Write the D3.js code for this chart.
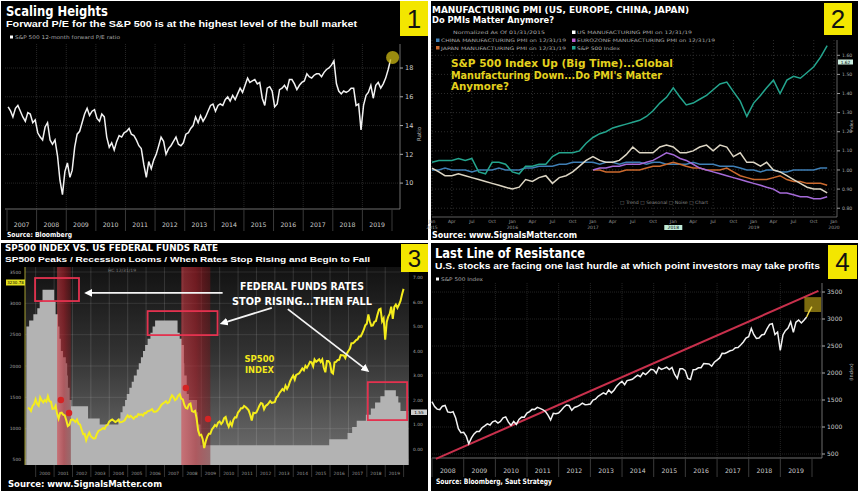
<!DOCTYPE html>
<html><head><meta charset="utf-8">
<script src="https://cdn.jsdelivr.net/npm/d3@7"></script>
<style>body{margin:0;background:#fff;} svg{display:block;}</style>
</head><body><svg id="c" width="859" height="492"></svg>
<script>
// ---------------- DATA ----------------
// Panel 1: S&P 500 12-month forward P/E, monthly Jan 2007 .. Dec 2019
const peStart = [2007, 0];
const peValues = [
 15.3,15.0,14.6,15.2,15.4,15.0,14.6,14.3,14.9,14.8,14.2,14.4,
 13.5,13.2,13.0,13.9,14.2,13.0,12.7,13.0,11.9,10.2,9.2,10.8,
 11.4,10.4,10.9,12.5,13.4,13.6,14.2,14.8,15.2,14.7,15.0,15.1,
 14.5,14.3,14.8,14.6,13.2,12.5,12.8,12.3,12.9,13.3,13.2,13.5,
 13.6,13.8,13.4,13.3,13.0,12.6,12.4,11.3,10.4,11.5,11.0,11.6,
 12.0,12.6,13.2,12.9,12.0,12.4,12.6,12.9,13.2,12.7,12.6,12.8,
 13.4,13.5,13.8,14.0,14.6,14.2,14.7,14.3,14.6,15.0,15.4,15.5,
 15.0,15.4,15.5,15.4,15.8,16.0,15.7,16.1,15.8,16.2,16.6,16.3,
 16.8,17.3,17.0,17.1,17.2,16.9,17.0,15.9,15.4,16.6,16.7,16.4,
 15.3,15.5,16.5,16.6,16.8,16.5,17.2,17.2,16.9,16.5,16.8,17.0,
 17.1,17.6,17.4,17.3,17.5,17.6,17.6,17.4,17.7,17.9,18.0,18.2,
 18.5,16.9,16.4,16.2,16.4,16.3,16.4,16.6,16.6,15.4,15.5,13.7,
 15.4,16.1,16.3,16.8,15.9,16.8,17.0,16.6,16.9,17.3,17.9,18.6];
const peTicks = [10,12,14,16,18];
const peYears = d3.range(2007, 2020);

// Panel 2: normalized indices, monthly Jan 2015 .. Dec 2019
const pmiStart = [2015, 0];
const spxNorm = [1.04,1.05,1.05,1.05,1.06,1.05,1.06,0.99,0.98,1.04,1.04,1.03,0.99,0.98,1.02,1.02,1.03,1.03,1.07,1.09,1.09,1.09,1.10,1.14,1.17,1.19,1.20,1.22,1.23,1.24,1.25,1.26,1.28,1.31,1.35,1.38,1.43,1.38,1.34,1.35,1.37,1.39,1.42,1.45,1.46,1.41,1.36,1.28,1.35,1.39,1.43,1.47,1.40,1.47,1.49,1.48,1.51,1.54,1.59,1.65];
const usPmi = [1.01,0.99,0.97,0.97,0.98,0.97,0.96,0.95,0.94,0.93,0.92,0.91,0.90,0.91,0.95,0.94,0.96,0.97,0.93,0.96,0.97,0.99,1.02,1.05,1.07,1.05,1.04,1.04,1.05,1.08,1.12,1.09,1.09,1.09,1.12,1.13,1.12,1.09,1.09,1.10,1.12,1.13,1.10,1.13,1.12,1.07,1.09,1.04,1.04,1.02,1.04,1.00,0.99,0.97,0.95,0.93,0.91,0.90,0.90,0.88];
const chinaPmi = [1.00,1.00,1.01,1.00,1.00,1.00,0.99,1.00,1.00,1.00,1.01,1.00,1.00,1.00,1.01,1.01,1.02,1.02,1.02,1.03,1.03,1.04,1.04,1.04,1.04,1.03,1.04,1.04,1.03,1.04,1.04,1.04,1.03,1.04,1.04,1.03,1.03,1.03,1.03,1.04,1.03,1.03,1.03,1.02,1.02,1.02,1.01,1.00,1.00,0.99,1.00,1.00,0.99,0.99,1.00,1.00,1.00,1.00,1.01,1.01];
const japanPmi = [null,null,null,null,null,null,null,null,null,null,null,null,null,null,null,null,null,null,null,null,null,null,null,null,1.00,1.00,0.99,0.99,0.99,1.00,1.00,1.00,1.01,1.02,1.02,1.03,1.04,1.03,1.02,1.01,1.01,1.00,1.00,1.00,1.01,0.99,0.97,0.96,0.95,0.95,0.95,0.96,0.97,0.95,0.94,0.94,0.93,0.93,0.93,0.92];
const euroPmi = [null,null,null,null,null,null,null,null,null,null,null,null,null,null,null,null,null,null,null,null,null,null,null,null,1.00,1.01,1.01,1.02,1.02,1.03,1.03,1.03,1.04,1.05,1.07,1.09,1.08,1.06,1.05,1.03,1.01,1.00,0.99,0.98,0.97,0.96,0.95,0.94,0.93,0.92,0.91,0.90,0.88,0.88,0.87,0.86,0.86,0.85,0.85,0.86];
const pmiTicks = [0.8,0.9,1.0,1.1,1.2,1.3,1.4,1.5,1.6];
const monthNames = ["Jan","Apr","Jul","Oct"];

// Panels 3 & 4: S&P 500 month-end level, Jul 1999 .. Dec 2019
const spxStart = [1999, 6];
const spxValues = [
 1329,1320,1283,1363,1389,1469,
 1394,1366,1499,1452,1421,1455,1431,1518,1437,1429,1315,1320,
 1366,1240,1160,1249,1256,1224,1211,1134,1041,1060,1139,1148,
 1130,1107,1147,1077,1067,990,912,916,815,886,936,880,
 856,841,848,917,964,975,990,1008,996,1051,1058,1112,
 1131,1145,1126,1107,1121,1141,1102,1104,1115,1130,1174,1212,
 1181,1204,1181,1157,1192,1191,1234,1220,1229,1207,1249,1248,
 1280,1281,1295,1311,1270,1270,1277,1304,1336,1378,1401,1418,
 1438,1407,1421,1482,1531,1503,1455,1474,1527,1549,1481,1468,
 1379,1331,1323,1386,1400,1280,1267,1283,1166,969,896,903,
 826,690,798,873,919,919,987,1021,1057,1036,1096,1115,
 1074,1104,1169,1187,1089,1031,1102,1049,1141,1183,1181,1258,
 1286,1327,1326,1364,1345,1321,1292,1219,1131,1253,1247,1258,
 1312,1366,1408,1398,1310,1362,1379,1407,1441,1412,1416,1426,
 1498,1515,1569,1598,1631,1606,1686,1633,1682,1757,1806,1848,
 1783,1859,1872,1884,1924,1960,1931,2003,1972,2018,2068,2059,
 1995,2105,2068,2086,2107,2063,2104,1972,1900,2079,2080,2044,
 1900,1880,2060,2065,2097,2099,2174,2171,2168,2126,2199,2239,
 2279,2364,2363,2384,2412,2423,2470,2472,2519,2575,2648,2674,
 2824,2714,2641,2648,2705,2718,2816,2902,2914,2712,2760,2420,
 2704,2784,2834,2946,2752,2942,2980,2926,2977,3038,3141,3231];

// Panel 3: US Fed funds target rate (change dates)
const fedDates = ["1999-07-01","1999-08-24","1999-11-16","2000-02-02","2000-03-21","2000-05-16","2001-01-03","2001-01-31","2001-03-20","2001-04-18","2001-05-15","2001-06-27","2001-08-21","2001-09-17","2001-10-02","2001-11-06","2001-12-11","2002-11-06","2003-06-25","2004-06-30","2004-08-10","2004-09-21","2004-11-10","2004-12-14","2005-02-02","2005-03-22","2005-05-03","2005-06-30","2005-08-09","2005-09-20","2005-11-01","2005-12-13","2006-01-31","2006-03-28","2006-05-10","2006-06-29","2007-09-18","2007-10-31","2007-12-11","2008-01-22","2008-01-30","2008-03-18","2008-04-30","2008-10-08","2008-10-29","2008-12-16","2015-12-16","2016-12-14","2017-03-15","2017-06-14","2017-12-13","2018-03-21","2018-06-13","2018-09-26","2018-12-19","2019-07-31","2019-09-18","2019-10-30","2020-04-01"];
const fedRates = [5.00,5.25,5.50,5.75,6.00,6.50,6.00,5.50,5.00,4.50,4.00,3.75,3.50,3.00,2.50,2.00,1.75,1.25,1.00,1.25,1.50,1.75,2.00,2.25,2.50,2.75,3.00,3.25,3.50,3.75,4.00,4.25,4.50,4.75,5.00,5.25,4.75,4.50,4.25,3.50,3.00,2.25,2.00,1.50,1.00,0.15,0.40,0.65,0.90,1.15,1.40,1.65,1.90,2.15,2.40,2.15,1.90,1.55,1.55];
const recessions = [["2001-03-01","2001-11-30"],["2007-12-01","2009-06-30"]];
const spxTicks3 = [500,1000,1500,2000,2500,3000,3500];
const fedTicks = [0,1,2,3,4,5,6,7];
const years3 = d3.range(2000, 2020);
// annotations (date, value on fed-funds scale)
const peakBoxes = [["1999-12-20",6.98,"2002-05-10",6.04],["2006-02-01",5.63,"2009-11-20",4.65],["2018-01-20",2.73,"2020-03-10",1.18]];
const arrows = [["2010-03-01",6.37,"2002-10-20",6.37],["2012-11-01",5.76,"2010-03-01",5.14],["2013-09-15",5.71,"2018-01-01",3.22]];
const dotDates = ["2001-05-15","2001-10-25","2008-03-01","2009-05-15"];
const dotValues = [1457,1250,1650,1155];

// Panel 4
const spxTicks4 = [500,1000,1500,2000,2500,3000,3500];
const years4 = d3.range(2008, 2020);
const trendDates = ["2008-02-15","2020-03-15"];
const trendValues = [410,3520];
const zoneBox = ["2019-10-05",3405,"2020-04-15",3130];

// ---------------- DRAW ----------------
const svg = d3.select("#c");
const FONT = "'DejaVu Sans', Verdana, sans-serif";
const NARROW = "'Liberation Sans Narrow', 'Liberation Sans', Arial, sans-serif";
const P = d3.timeParse("%Y-%m-%d");
function T(g, x, y, s, o = {}) {
  const t = g.append("text").attr("x", x).attr("y", y).text(s)
    .attr("font-family", o.family || FONT).attr("font-size", o.size || 8)
    .attr("font-weight", o.bold ? "bold" : "normal").attr("fill", o.fill || "#fff");
  if (o.len) t.attr("textLength", o.len).attr("lengthAdjust", "spacingAndGlyphs");
  if (o.anchor) t.attr("text-anchor", o.anchor);
  if (o.rotate) t.attr("transform", `rotate(${o.rotate},${x},${y})`);
  return t;
}
const defs = svg.append("defs");
svg.append("rect").attr("width", 859).attr("height", 492).attr("fill", "#fff");
[[1,1,427,239],[431,1,427,239],[1,243,427,248],[431,243,427,248]].forEach(p =>
  svg.append("rect").attr("x", p[0]).attr("y", p[1]).attr("width", p[2]).attr("height", p[3]).attr("fill", "#000"));

function numBox(x, y, w, h, n, fs) {
  svg.append("rect").attr("x", x).attr("y", y).attr("width", w).attr("height", h).attr("fill", "#f3e600");
  T(svg, x + w / 2, y + h / 2 + fs * 0.36, n, {size: fs, fill: "#111", anchor: "middle", family: "'Liberation Sans', Arial"});
}

// ===== Panel 1 =====
{
  const g = svg.append("g");
  const x = d3.scaleTime().domain([new Date(2007,0,1), new Date(2020,0,1)]).range([7, 392]);
  const y = d3.scaleLinear().domain([8.2, 19.67]).range([209, 44]);
  peYears.slice(1).forEach(Y => g.append("line").attr("x1", x(new Date(Y,0,1))).attr("x2", x(new Date(Y,0,1))).attr("y1", 44).attr("y2", 209).attr("stroke", "#262626").attr("stroke-dasharray", "1,1"));
  peTicks.forEach(v => g.append("line").attr("x1", 5).attr("x2", 400).attr("y1", y(v)).attr("y2", y(v)).attr("stroke", "#262626").attr("stroke-dasharray", "1,1"));
  g.append("line").attr("x1", 400).attr("x2", 400).attr("y1", 44).attr("y2", 209).attr("stroke", "#888").attr("stroke-width", 0.8);
  g.append("line").attr("x1", 5).attr("x2", 400).attr("y1", 209).attr("y2", 209).attr("stroke", "#888").attr("stroke-width", 0.8);
  peTicks.forEach(v => {
    g.append("line").attr("x1", 400).attr("x2", 403).attr("y1", y(v)).attr("y2", y(v)).attr("stroke", "#aaa");
    T(g, 405, y(v) + 2.3, v, {size: 6.5, fill: "#ccc"});
  });
  T(g, 421, 134, "Ratio", {size: 5.5, fill: "#bbb", rotate: -90, anchor: "middle"});
  peYears.concat([2020]).forEach(Y => g.append("line").attr("x1", x(new Date(Y,0,1))).attr("x2", x(new Date(Y,0,1))).attr("y1", 209).attr("y2", 231).attr("stroke", "#3a3a3a"));
  peYears.forEach(Y => T(g, x(new Date(Y,6,1)), 227, Y, {size: 6.2, fill: "#ccc", anchor: "middle"}));
  const line = d3.line().x((d, i) => x(new Date(peStart[0], peStart[1] + i, 15))).y(d => y(d));
  g.append("path").attr("d", line(peValues)).attr("fill", "none").attr("stroke", "#f2f2f2").attr("stroke-width", 1.5);
  const li = peValues.length - 1;
  g.append("circle").attr("cx", x(new Date(peStart[0], peStart[1] + li, 15)) + 2).attr("cy", y(peValues[li]) - 2).attr("r", 6.5).attr("fill", "rgba(205,185,20,0.75)");
  T(g, 6, 16, "Scaling Heights", {size: 14, bold: true, len: 102});
  T(g, 6, 27, "Forward P/E for the S&P 500 is at the highest level of the bull market", {size: 9.5, bold: true, len: 351, family: NARROW});
  g.append("rect").attr("x", 10).attr("y", 35.5).attr("width", 3).attr("height", 3).attr("fill", "#fff");
  T(g, 15, 39.3, "S&P 500 12-month forward P/E ratio", {size: 5, fill: "#aaa", len: 105});
  T(g, 7, 237, "Source: Bloomberg", {size: 7, bold: true, len: 65});
  numBox(400, 1, 28, 35, "1", 26);
}

// ===== Panel 2 =====
{
  const g = svg.append("g");
  const x = d3.scaleTime().domain([new Date(2015,0,1), new Date(2020,0,1)]).range([432, 834]);
  const y = d3.scaleLinear().domain([0.754, 1.68]).range([217, 40]);
  const qs = d3.timeMonth.every(3).range(new Date(2015,0,1), new Date(2020,0,2));
  qs.forEach(d => g.append("line").attr("x1", x(d)).attr("x2", x(d)).attr("y1", 40).attr("y2", 217).attr("stroke", "#2c2c2c").attr("stroke-dasharray", "1,2"));
  pmiTicks.forEach(v => g.append("line").attr("x1", 432).attr("x2", 837).attr("y1", y(v)).attr("y2", y(v)).attr("stroke", "#2c2c2c").attr("stroke-dasharray", "1,2"));
  g.append("line").attr("x1", 837).attr("x2", 837).attr("y1", 40).attr("y2", 217).attr("stroke", "#888").attr("stroke-width", 0.7);
  g.append("line").attr("x1", 432).attr("x2", 837).attr("y1", 217).attr("y2", 217).attr("stroke", "#888").attr("stroke-width", 0.7);
  pmiTicks.forEach(v => {
    g.append("line").attr("x1", 837).attr("x2", 840).attr("y1", y(v)).attr("y2", y(v)).attr("stroke", "#999");
    T(g, 842, y(v) + 1.6, d3.format(".2f")(v), {size: 4.6, fill: "#aaa"});
  });
  g.append("rect").attr("x", 838).attr("y", 59.5).attr("width", 15).attr("height", 5).attr("fill", "#cdeee0");
  T(g, 845.5, 63.5, "1.62", {size: 4.3, fill: "#000", anchor: "middle"});
  T(g, 853, 126, "Index", {size: 4.5, fill: "#aaa", rotate: -90, anchor: "middle"});
  qs.forEach(d => {
    T(g, x(d), 223, monthNames[d.getMonth() / 3], {size: 4.5, fill: "#999", anchor: "middle"});
    if (d.getMonth() === 0 && d.getFullYear() !== 2018) T(g, x(d), 229, d.getFullYear(), {size: 4.5, fill: "#999", anchor: "middle"});
  });
  g.append("rect").attr("x", x(new Date(2018,0,1)) - 9).attr("y", 225).attr("width", 18).attr("height", 5).attr("fill", "#bfead8");
  T(g, x(new Date(2018,0,1)), 229, "2018", {size: 4.5, fill: "#000", anchor: "middle"});
  const mk = arr => d3.line().defined(d => d != null).x((d, i) => x(new Date(pmiStart[0], pmiStart[1] + i, 1))).y(d => y(d))(arr);
  [[chinaPmi, "#3f7fb5"], [japanPmi, "#cc6a2e"], [euroPmi, "#a56ad8"], [usPmi, "#ddd6c4"], [spxNorm, "#24a58e"]].forEach(s =>
    g.append("path").attr("d", mk(s[0])).attr("fill", "none").attr("stroke", s[1]).attr("stroke-width", 1.5));
  T(g, 620, 204, "\u25A1 Trend  \u25A1 Seasonal  \u25A1 Noise  \u25A1 Chart", {size: 4.5, fill: "#888", len: 88});
  T(g, 432, 13, "MANUFACTURING PMI (US, EUROPE, CHINA, JAPAN)", {size: 9, bold: true, len: 257});
  T(g, 432, 22.5, "Do PMIs Matter Anymore?", {size: 9, bold: true, len: 122});
  const leg = [[null, 453, 34, "Normalized As Of 01/31/2015", 92], ["#fff", 572, 34, "US MANUFACTURING PMI on 12/31/19", 115],
    ["#3f7fb5", 436, 42, "CHINA MANUFACTURING PMI on 12/31/19", 125], ["#c060d0", 572, 42, "EUROZONE MANUFACTURING PMI on 12/31/19", 138],
    ["#cc6a2e", 436, 49.5, "JAPAN MANUFACTURING PMI on 12/31/19", 125], ["#24a58e", 572, 49.5, "S&P 500 Index", 43]];
  leg.forEach(l => {
    if (l[0]) g.append("rect").attr("x", l[1]).attr("y", l[2] - 3.5).attr("width", 3.5).attr("height", 3.5).attr("fill", l[0]);
    T(g, l[1] + (l[0] ? 5 : 0), l[2], l[3], {size: 4.6, fill: "#aaa", len: l[4]});
  });
  const yl = {size: 11, bold: true, fill: "#e4d11e"};
  T(g, 451, 67, "S&P 500 Index Up (Big Time)...Global", {...yl, len: 222});
  T(g, 451, 78.5, "Manufacturing Down...Do PMI's Matter", {...yl, len: 211});
  T(g, 451, 90, "Anymore?", {...yl, len: 58});
  T(g, 432, 238, "Source: www.SignalsMatter.com", {size: 9.5, bold: true, len: 145});
  numBox(824, 3, 28, 32, "2", 26);
}

// ===== Panel 3 =====
{
  const g = svg.append("g");
  const x = d3.scaleTime().domain([new Date(1999,6,1), new Date(2020,3,1)]).range([26.4, 408.2]);
  const yL = d3.scaleLinear().domain([420, 3580]).range([465, 267]);
  const yR = d3.scaleLinear().domain([-0.653, 7.43]).range([465, 267]);
  const bg = defs.append("linearGradient").attr("id", "bg3").attr("x1", 0).attr("y1", 0).attr("x2", 0).attr("y2", 1);
  [[0, "#121212"], [0.45, "#333"], [1, "#727272"]].forEach(s => bg.append("stop").attr("offset", s[0]).attr("stop-color", s[1]));
  const rg = defs.append("linearGradient").attr("id", "rec").attr("x1", 0).attr("y1", 0).attr("x2", 1).attr("y2", 0);
  [[0, "rgba(215,60,70,0.55)"], [0.5, "rgba(170,30,40,0.6)"], [1, "rgba(120,20,25,0.45)"]].forEach(s => rg.append("stop").attr("offset", s[0]).attr("stop-color", s[1]));
  g.append("rect").attr("x", 25).attr("y", 267).attr("width", 384).attr("height", 198).attr("fill", "url(#bg3)");
  years3.forEach(Y => g.append("line").attr("x1", x(new Date(Y,0,1))).attr("x2", x(new Date(Y,0,1))).attr("y1", 267).attr("y2", 465).attr("stroke", "rgba(255,255,255,0.13)"));
  spxTicks3.forEach(v => g.append("line").attr("x1", 25).attr("x2", 409).attr("y1", yL(v)).attr("y2", yL(v)).attr("stroke", "rgba(255,255,255,0.1)"));
  const fed = fedDates.map((d, i) => [P(d), fedRates[i]]);
  g.append("path").attr("d", d3.area().curve(d3.curveStepAfter).x(d => x(d[0])).y0(465).y1(d => yR(d[1]))(fed)).attr("fill", "#b3b3b3");
  recessions.forEach(r => g.append("rect").attr("x", x(P(r[0]))).attr("width", x(P(r[1])) - x(P(r[0]))).attr("y", 267).attr("height", 198).attr("fill", "url(#rec)"));
  const sp = spxValues.map((v, i) => [new Date(spxStart[0], spxStart[1] + i + 1, 0), v]);
  g.append("path").attr("d", d3.line().x(d => x(d[0])).y(d => yL(d[1]))(sp)).attr("fill", "none").attr("stroke", "#f4ec1c").attr("stroke-width", 2);
  peakBoxes.forEach(b => g.append("rect").attr("x", x(P(b[0]))).attr("y", yR(b[1])).attr("width", x(P(b[2])) - x(P(b[0]))).attr("height", yR(b[3]) - yR(b[1])).attr("fill", "none").attr("stroke", "#e3324f").attr("stroke-width", 1.8));
  dotDates.forEach((d, i) => g.append("circle").attr("cx", x(P(d))).attr("cy", yL(dotValues[i])).attr("r", 3.2).attr("fill", "#d42424"));
  const mk = defs.append("marker").attr("id", "ah").attr("markerUnits", "userSpaceOnUse").attr("markerWidth", 8).attr("markerHeight", 8).attr("refX", 5).attr("refY", 4).attr("orient", "auto");
  mk.append("path").attr("d", "M0,0 L8,4 L0,8 z").attr("fill", "#fff");
  arrows.forEach(a => g.append("line").attr("x1", x(P(a[0]))).attr("y1", yR(a[1])).attr("x2", x(P(a[2]))).attr("y2", yR(a[3])).attr("stroke", "#f4f4f4").attr("stroke-width", 1.8).attr("marker-end", "url(#ah)"));
  // axes
  g.append("line").attr("x1", 25).attr("x2", 25).attr("y1", 267).attr("y2", 465).attr("stroke", "#c9c23a").attr("stroke-width", 0.8);
  spxTicks3.forEach(v => T(g, 21, yL(v) + 1.5, v, {size: 4.4, fill: "#aaa", anchor: "end"}));
  g.append("rect").attr("x", 6).attr("y", 279.5).attr("width", 19).attr("height", 6).attr("fill", "#e4e020");
  T(g, 15.5, 284, "3230.78", {size: 4, fill: "#000", anchor: "middle"});
  fedTicks.forEach(v => T(g, 413, yR(v) + 1.5, d3.format(".2f")(v), {size: 4.4, fill: "#aaa"}));
  g.append("rect").attr("x", 411).attr("y", 409.5).attr("width", 16).attr("height", 5.5).attr("fill", "#ccc");
  T(g, 419, 413.8, "1.55", {size: 4.2, fill: "#000", anchor: "middle"});
  T(g, 122, 272, "HC 12/31/19", {size: 4.5, fill: "#777", anchor: "middle"});
  years3.concat([2020]).forEach(Y => g.append("line").attr("x1", x(new Date(Y,0,1))).attr("x2", x(new Date(Y,0,1))).attr("y1", 465).attr("y2", 477).attr("stroke", "#333"));
  years3.forEach(Y => T(g, x(new Date(Y,6,1)), 474.5, Y, {size: 4.4, fill: "#999", anchor: "middle"}));
  // texts
  T(g, 302, 290, "FEDERAL FUNDS RATES", {size: 11, bold: true, anchor: "middle", len: 124});
  T(g, 302, 305, "STOP RISING...THEN FALL", {size: 11, bold: true, anchor: "middle", len: 140});
  T(g, x(new Date(2012,2,1)), yL(2064), "SP500", {size: 8.5, bold: true, fill: "#f2e81c", anchor: "middle", len: 30});
  T(g, x(new Date(2012,2,1)), yL(1895), "INDEX", {size: 8.5, bold: true, fill: "#f2e81c", anchor: "middle", len: 29});
  T(g, 5, 250.5, "SP500 INDEX VS. US FEDERAL FUNDS RATE", {size: 8, bold: true, len: 213});
  T(g, 5, 262, "SP500 Peaks / Recession Looms / When Rates Stop Rising and Begin to Fall", {size: 8, bold: true, len: 365, family: NARROW});
  T(g, 8, 487, "Source: www.SignalsMatter.com", {size: 9, bold: true, len: 154});
  numBox(401, 244, 27, 28, "3", 24);
}

// ===== Panel 4 =====
{
  const g = svg.append("g");
  const x = d3.scaleTime().domain([new Date(2008,0,1), new Date(2020,0,1)]).range([432, 812]);
  const y = d3.scaleLinear().domain([426, 3667]).range([458, 283]);
  years4.slice(1).forEach(Y => g.append("line").attr("x1", x(new Date(Y,0,1))).attr("x2", x(new Date(Y,0,1))).attr("y1", 283).attr("y2", 458).attr("stroke", "#232323").attr("stroke-dasharray", "1,1"));
  spxTicks4.forEach(v => g.append("line").attr("x1", 432).attr("x2", 822).attr("y1", y(v)).attr("y2", y(v)).attr("stroke", "#232323").attr("stroke-dasharray", "1,1"));
  g.append("line").attr("x1", 822).attr("x2", 822).attr("y1", 283).attr("y2", 458).attr("stroke", "#888").attr("stroke-width", 0.8);
  g.append("line").attr("x1", 432).attr("x2", 822).attr("y1", 458).attr("y2", 458).attr("stroke", "#888").attr("stroke-width", 0.8);
  spxTicks4.forEach(v => {
    g.append("line").attr("x1", 822).attr("x2", 825).attr("y1", y(v)).attr("y2", y(v)).attr("stroke", "#aaa");
    T(g, 827, y(v) + 2, v, {size: 6, fill: "#ccc"});
  });
  T(g, 853, 372, "(Index)", {size: 5, fill: "#bbb", rotate: -90, anchor: "middle"});
  years4.concat([2020]).forEach(Y => g.append("line").attr("x1", x(new Date(Y,0,1))).attr("x2", x(new Date(Y,0,1))).attr("y1", 458).attr("y2", 477).attr("stroke", "#3a3a3a"));
  years4.forEach(Y => T(g, x(new Date(Y,6,1)), 473, Y, {size: 6.2, fill: "#ccc", anchor: "middle"}));
  const tr = trendDates.map((d, i) => [P(d), trendValues[i]]);
  g.append("path").attr("d", d3.line().x(d => x(d[0])).y(d => y(d[1]))(tr)).attr("stroke", "#c8304c").attr("stroke-width", 2).attr("fill", "none");
  g.append("rect").attr("x", x(P(zoneBox[0]))).attr("y", y(zoneBox[1])).attr("width", x(P(zoneBox[2])) - x(P(zoneBox[0]))).attr("height", y(zoneBox[3]) - y(zoneBox[1])).attr("fill", "rgba(200,172,25,0.62)");
  const sp = spxValues.map((v, i) => [new Date(spxStart[0], spxStart[1] + i + 1, 0), v]).filter(d => d[0] >= new Date(2007,11,31));
  g.append("path").attr("d", d3.line().x(d => x(d[0])).y(d => y(d[1]))(sp.slice(0, -2))).attr("fill", "none").attr("stroke", "#f2f2f2").attr("stroke-width", 1.5);
  g.append("path").attr("d", d3.line().x(d => x(d[0])).y(d => y(d[1]))(sp.slice(-3))).attr("fill", "none").attr("stroke", "#ecd84a").attr("stroke-width", 1.5);
  T(g, 435, 257.5, "Last Line of Resistance", {size: 14, bold: true, len: 150});
  T(g, 435, 269, "U.S. stocks are facing one last hurdle at which point investors may take profits", {size: 9.5, bold: true, len: 385, family: NARROW});
  g.append("rect").attr("x", 436).attr("y", 277.5).attr("width", 3).attr("height", 3).attr("fill", "#fff");
  T(g, 441, 281, "S&P 500 Index", {size: 5, fill: "#aaa", len: 42});
  T(g, 436, 484, "Source: Bloomberg, Saut Strategy", {size: 7.5, bold: true, len: 116});
  numBox(828, 245, 29, 34, "4", 26);
}
</script></body></html>
